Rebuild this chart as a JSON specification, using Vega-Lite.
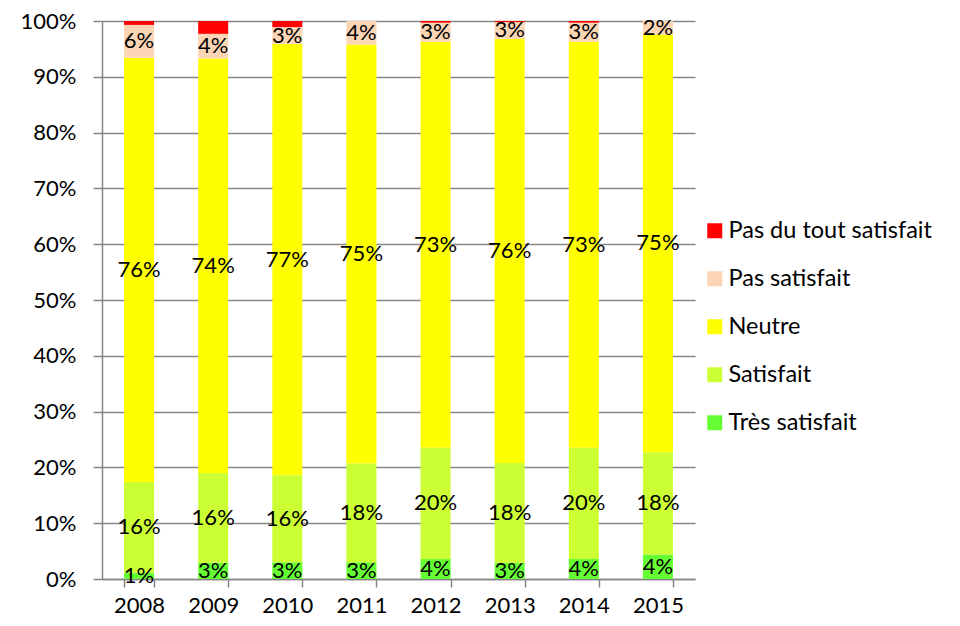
{
  "$schema": "https://vega.github.io/schema/vega-lite/v6.json",
  "width": 593,
  "height": 558,
  "autosize": {"type": "none"},
  "padding": {"left": 102, "top": 21, "right": 265, "bottom": 47},
  "background": "white",
  "config": {
    "view": {"stroke": null},
    "font": "Lato",
    "axis": {"labelFont": "Lato", "labelFontSize": 22, "labelColor": "black", "domainColor": "#868686", "tickColor": "#868686", "gridColor": "#868686", "title": null},
    "legend": {"labelFont": "Lato", "labelFontSize": 23.5, "labelColor": "black", "labelLimit": 0}
  },
  "data": {
    "values": [
      {"year": "2008", "cat": "Très satisfait", "pct": 1.1},
      {"year": "2008", "cat": "Satisfait", "pct": 16.3},
      {"year": "2008", "cat": "Neutre", "pct": 76.0},
      {"year": "2008", "cat": "Pas satisfait", "pct": 5.9},
      {"year": "2008", "cat": "Pas du tout satisfait", "pct": 0.7},
      {"year": "2009", "cat": "Très satisfait", "pct": 2.9},
      {"year": "2009", "cat": "Satisfait", "pct": 16.1},
      {"year": "2009", "cat": "Neutre", "pct": 74.3},
      {"year": "2009", "cat": "Pas satisfait", "pct": 4.4},
      {"year": "2009", "cat": "Pas du tout satisfait", "pct": 2.3},
      {"year": "2010", "cat": "Très satisfait", "pct": 3.0},
      {"year": "2010", "cat": "Satisfait", "pct": 15.6},
      {"year": "2010", "cat": "Neutre", "pct": 77.3},
      {"year": "2010", "cat": "Pas satisfait", "pct": 3.0},
      {"year": "2010", "cat": "Pas du tout satisfait", "pct": 1.1},
      {"year": "2011", "cat": "Très satisfait", "pct": 3.0},
      {"year": "2011", "cat": "Satisfait", "pct": 17.7},
      {"year": "2011", "cat": "Neutre", "pct": 75.1},
      {"year": "2011", "cat": "Pas satisfait", "pct": 4.2},
      {"year": "2011", "cat": "Pas du tout satisfait", "pct": 0.0},
      {"year": "2012", "cat": "Très satisfait", "pct": 3.6},
      {"year": "2012", "cat": "Satisfait", "pct": 19.9},
      {"year": "2012", "cat": "Neutre", "pct": 72.8},
      {"year": "2012", "cat": "Pas satisfait", "pct": 3.4},
      {"year": "2012", "cat": "Pas du tout satisfait", "pct": 0.3},
      {"year": "2013", "cat": "Très satisfait", "pct": 2.9},
      {"year": "2013", "cat": "Satisfait", "pct": 17.9},
      {"year": "2013", "cat": "Neutre", "pct": 76.0},
      {"year": "2013", "cat": "Pas satisfait", "pct": 3.0},
      {"year": "2013", "cat": "Pas du tout satisfait", "pct": 0.2},
      {"year": "2014", "cat": "Très satisfait", "pct": 3.6},
      {"year": "2014", "cat": "Satisfait", "pct": 19.9},
      {"year": "2014", "cat": "Neutre", "pct": 72.8},
      {"year": "2014", "cat": "Pas satisfait", "pct": 3.4},
      {"year": "2014", "cat": "Pas du tout satisfait", "pct": 0.3},
      {"year": "2015", "cat": "Très satisfait", "pct": 4.4},
      {"year": "2015", "cat": "Satisfait", "pct": 18.3},
      {"year": "2015", "cat": "Neutre", "pct": 74.9},
      {"year": "2015", "cat": "Pas satisfait", "pct": 2.4},
      {"year": "2015", "cat": "Pas du tout satisfait", "pct": 0.0}
    ]
  },
  "transform": [
    {"calculate": "indexof(['Très satisfait','Satisfait','Neutre','Pas satisfait','Pas du tout satisfait'], datum.cat)", "as": "rank"},
    {"stack": "pct", "groupby": ["year"], "sort": [{"field": "rank", "order": "ascending"}], "as": ["y0", "y1"]},
    {"calculate": "(datum.y0 + datum.y1) / 2", "as": "mid"},
    {"calculate": "format(datum.pct, '.0f') + '%'", "as": "label"}
  ],
  "encoding": {
    "x": {
      "field": "year", "type": "ordinal",
      "scale": {"paddingInner": 0.595, "paddingOuter": 0.2975},
      "axis": {"labelAngle": 0, "tickBand": "extent", "tickSize": 8, "labelPadding": 8, "domainWidth": 1.5, "tickWidth": 1.5}
    }
  },
  "layer": [
    {
      "mark": {"type": "bar"},
      "encoding": {
        "y": {
          "field": "y0", "type": "quantitative",
          "scale": {"domain": [0, 100], "nice": false},
          "axis": {"values": [0,10,20,30,40,50,60,70,80,90,100], "labelExpr": "datum.value + '%'", "grid": true, "gridWidth": 1.5, "tickSize": 9, "labelPadding": 17, "domainWidth": 1.5, "tickWidth": 1.5}
        },
        "y2": {"field": "y1"},
        "color": {
          "field": "cat", "type": "nominal",
          "scale": {
            "domain": ["Pas du tout satisfait", "Pas satisfait", "Neutre", "Satisfait", "Très satisfait"],
            "range": ["#FF0000", "#FCD5B5", "#FFFF00", "#CCFF33", "#66FF33"]
          },
          "legend": {
            "title": null, "orient": "none", "legendX": 601, "legendY": 198,
            "symbolType": "square", "symbolSize": 225, "symbolStrokeWidth": 0,
            "labelOffset": 2, "rowPadding": 23, "padding": 0
          }
        }
      }
    },
    {
      "transform": [{"filter": "datum.cat !== 'Pas du tout satisfait'"}],
      "mark": {"type": "text", "fontSize": 22, "font": "Lato", "color": "black", "baseline": "middle", "align": "center"},
      "encoding": {
        "y": {"field": "mid", "type": "quantitative"},
        "text": {"field": "label"}
      }
    }
  ]
}
